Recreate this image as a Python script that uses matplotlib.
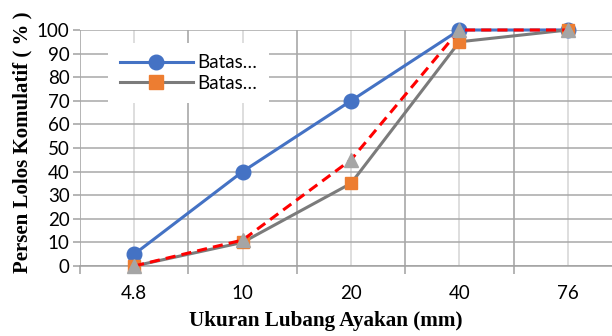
import matplotlib
matplotlib.use("Agg")
import matplotlib.pyplot as plt
from matplotlib.lines import Line2D
import numpy as np

# --- Data -----------------------------------------------------------------

sieve_sizes = ["4.8", "10", "20", "40", "76"]
batas_bawah = [5, 40, 70, 100, 100]       # blue, circles
batas_atas = [0, 10, 35, 95, 100]         # grey line, orange squares
gradasi = [0, 11, 45, 100, 100]           # red dashed, grey triangles
legend_labels = ["Batas…", "Batas…"]

# --------------------------------------------------------------------------

BLUE = "#4472C4"
ORANGE = "#ED7D31"
GREY_LINE = "#7B7B7B"
GREY_MARK = "#A5A5A5"
RED = "#FF0000"

plt.rcParams["font.family"] = ["Lato", "DejaVu Sans"]

fig = plt.figure(figsize=(6.12, 3.36), dpi=100)
ax = fig.add_axes([80 / 612, 70 / 336, 542 / 612, 236 / 336])

x = np.arange(len(sieve_sizes))

ax.plot(x, batas_bawah, color=BLUE, lw=2.2, marker="o", ms=10.5,
        mfc=BLUE, mec=BLUE, zorder=3, clip_on=False)
ax.plot(x, batas_atas, color=GREY_LINE, lw=2.2, marker="s", ms=9,
        mfc=ORANGE, mec=ORANGE, zorder=4, clip_on=False)
ax.plot(x, gradasi, color=RED, lw=2.2, ls=(0, (3.3, 2)), marker="^", ms=10.5,
        mfc=GREY_MARK, mec=GREY_MARK, zorder=5, clip_on=False)

ax.set_xlim(-0.5, len(sieve_sizes) - 0.5)
ax.set_ylim(0, 100)

# category labels at centres, boundary ticks as minor ticks
ax.set_xticks(x)
ax.set_xticklabels(sieve_sizes)
ax.set_xticks(np.arange(-0.5, len(sieve_sizes)), minor=True)
ax.tick_params(axis="x", which="major", length=0, pad=14, labelsize=13.5)
ax.tick_params(axis="x", which="minor", length=6, width=1.1, color="#A0A0A0")
ax.set_yticks(np.arange(0, 101, 10))
ax.tick_params(axis="y", length=5, width=1.1, color="#A0A0A0", pad=2.5,
               labelsize=13.5)

ax.grid(axis="y", color="#A8A8A8", lw=1.1, zorder=0)
ax.grid(axis="x", which="minor", color="#A0A0A0", lw=1.1, zorder=0)
ax.grid(axis="x", which="major", color="#D4D4D4", lw=1.1, zorder=0)
ax.set_axisbelow(True)

for side in ["top", "right", "left"]:
    ax.spines[side].set_visible(False)
ax.spines["bottom"].set_color("#A0A0A0")
ax.spines["bottom"].set_linewidth(1.1)

ax.set_xlabel("Ukuran Lubang Ayakan (mm)", family="Liberation Serif",
              fontweight="bold", fontsize=15.2)
ax.xaxis.set_label_coords(0.454, -0.19)
ax.set_ylabel("Persen Lolos Komulatif ( % )", family="Liberation Serif",
              fontweight="bold", fontsize=15)
ax.yaxis.set_label_coords(-0.088, 0.525)

handles = [
    Line2D([], [], color=BLUE, lw=2.2, marker="o", ms=10.5, mfc=BLUE, mec=BLUE),
    Line2D([], [], color=GREY_LINE, lw=2.2, marker="s", ms=9.5,
           mfc=ORANGE, mec=ORANGE),
]
leg = ax.legend(handles, legend_labels, loc="upper left",
                bbox_to_anchor=(0.035, 0.985), fontsize=13.5, handlelength=3.9,
                handletextpad=0.25, labelspacing=0.2, borderpad=0.6,
                frameon=True, fancybox=False, framealpha=1,
                facecolor="white", edgecolor="none")
leg.set_zorder(6)

plt.savefig("out.png", dpi=100)
